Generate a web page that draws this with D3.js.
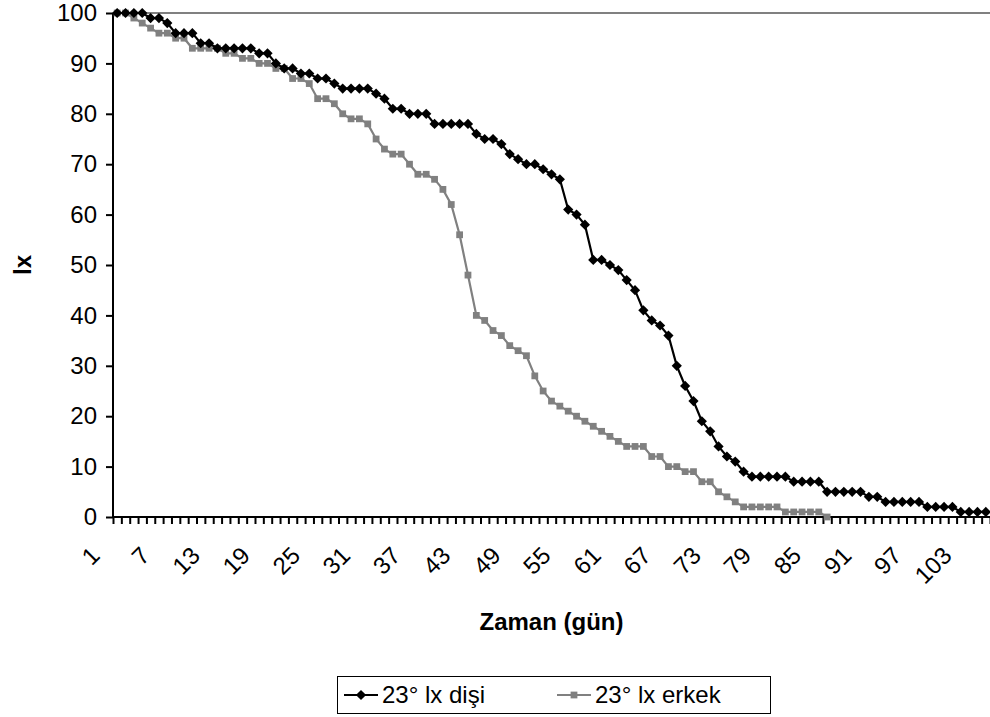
<!DOCTYPE html>
<html>
<head>
<meta charset="utf-8">
<script src="https://cdn.jsdelivr.net/npm/d3@7"></script>
<style>
  body { margin: 0; background: #fff; }
  text { font-family: "Liberation Sans", Arial, sans-serif; fill: #000; }
</style>
</head>
<body>
<svg id="chart" width="990" height="717"></svg>
<script>
// Survival (lx) at 23°, by day
const days = d3.range(1, 106);
const femaleLx = [
  100, 100, 100, 100, 99, 99, 98, 96, 96, 96,
  94, 94, 93, 93, 93, 93, 93, 92, 92, 90,
  89, 89, 88, 88, 87, 87, 86, 85, 85, 85,
  85, 84, 83, 81, 81, 80, 80, 80, 78, 78,
  78, 78, 78, 76, 75, 75, 74, 72, 71, 70,
  70, 69, 68, 67, 61, 60, 58, 51, 51, 50,
  49, 47, 45, 41, 39, 38, 36, 30, 26, 23,
  19, 17, 14, 12, 11, 9, 8, 8, 8, 8,
  8, 7, 7, 7, 7, 5, 5, 5, 5, 5,
  4, 4, 3, 3, 3, 3, 3, 2, 2, 2,
  2, 1, 1, 1, 1
];
const maleLx = [
  100, 100, 99, 98, 97, 96, 96, 95, 95, 93,
  93, 93, 93, 92, 92, 91, 91, 90, 90, 89,
  89, 87, 87, 86, 83, 83, 82, 80, 79, 79,
  78, 75, 73, 72, 72, 70, 68, 68, 67, 65,
  62, 56, 48, 40, 39, 37, 36, 34, 33, 32,
  28, 25, 23, 22, 21, 20, 19, 18, 17, 16,
  15, 14, 14, 14, 12, 12, 10, 10, 9, 9,
  7, 7, 5, 4, 3, 2, 2, 2, 2, 2,
  1, 1, 1, 1, 1, 0
];
const dayTicks = [1, 7, 13, 19, 25, 31, 37, 43, 49, 55, 61, 67, 73, 79, 85, 91, 97, 103];
const lxTicks = [0, 10, 20, 30, 40, 50, 60, 70, 80, 90, 100];
const seriesNames = ["23° lx dişi", "23° lx erkek"];

const svg = d3.select("#chart");
const plotLeft = 113, plotRight = 990, plotTop = 13, plotBottom = 517;
const fontPx = "24px";

const x = d3.scaleBand().domain(days).range([plotLeft, plotRight]).padding(0);
const xEdge = d3.scaleLinear().domain([0, days.length]).range([plotLeft, plotRight]);
const y = d3.scaleLinear().domain([0, 100]).range([plotBottom, plotTop]);
const cx = d => x(d) + x.bandwidth() / 2;

// plot area top border
svg.append("line")
  .attr("x1", plotLeft).attr("x2", plotRight).attr("y1", plotTop).attr("y2", plotTop)
  .attr("stroke", "#808080").attr("stroke-width", 2);

// y axis
const yAxis = svg.append("g").attr("transform", `translate(${plotLeft},0)`)
  .call(d3.axisLeft(y).tickValues(lxTicks).tickSize(7).tickPadding(9).tickFormat(d3.format("d")));
yAxis.select(".domain").attr("stroke", "#000").attr("stroke-width", 2).attr("d", `M0,${plotBottom}V${plotTop}`);
yAxis.selectAll(".tick line").attr("stroke", "#000").attr("stroke-width", 2);
yAxis.selectAll(".tick text").style("font-size", fontPx).attr("font-family", null);

// x axis: ticks between categories
const xAxis = svg.append("g").attr("transform", `translate(0,${plotBottom})`)
  .call(d3.axisBottom(xEdge).tickValues(d3.range(0, days.length + 1)).tickSize(7).tickFormat(""));
xAxis.select(".domain").attr("stroke", "#000").attr("stroke-width", 2).attr("d", `M${plotLeft},0H${plotRight}`);
xAxis.selectAll(".tick line").attr("stroke", "#000").attr("stroke-width", 2);

// rotated day labels
svg.append("g").selectAll("text").data(dayTicks).join("text")
  .attr("transform", d => `translate(${cx(d) - 16},557) rotate(-45)`)
  .attr("text-anchor", "end")
  .style("font-size", fontPx)
  .text(d => d);

// axis titles
svg.append("text")
  .attr("x", (plotLeft + plotRight) / 2).attr("y", 630)
  .attr("text-anchor", "middle")
  .style("font-size", fontPx).style("font-weight", "bold")
  .text("Zaman (gün)");
svg.append("text")
  .attr("transform", `translate(31,${(plotTop + plotBottom) / 2}) rotate(-90)`)
  .attr("text-anchor", "middle")
  .style("font-size", fontPx).style("font-weight", "bold")
  .text("lx");

// series
const line = d3.line().x((v, i) => cx(days[i])).y(v => y(v));
const diamond = d3.symbol().type(d3.symbolSquare).size(52);
const square = d3.symbol().type(d3.symbolSquare).size(46);

svg.append("path").datum(maleLx)
  .attr("d", line).attr("fill", "none").attr("stroke", "#808080").attr("stroke-width", 2.2);
svg.append("g").selectAll("path").data(maleLx).join("path")
  .attr("d", square)
  .attr("transform", (v, i) => `translate(${cx(days[i])},${y(v)})`)
  .attr("fill", "#808080");

svg.append("path").datum(femaleLx)
  .attr("d", line).attr("fill", "none").attr("stroke", "#000").attr("stroke-width", 2.2);
svg.append("g").selectAll("path").data(femaleLx).join("path")
  .attr("d", diamond)
  .attr("transform", (v, i) => `translate(${cx(days[i])},${y(v)}) rotate(45)`)
  .attr("fill", "#000");

// legend
const lg = svg.append("g");
lg.append("rect").attr("x", 337.5).attr("y", 676.5).attr("width", 433).attr("height", 37)
  .attr("fill", "#fff").attr("stroke", "#000").attr("stroke-width", 1);
const items = [
  { name: seriesNames[0], color: "#000", sym: diamond, rot: 45, x0: 344 },
  { name: seriesNames[1], color: "#808080", sym: square, rot: 0, x0: 557 }
];
items.forEach(it => {
  lg.append("line").attr("x1", it.x0).attr("x2", it.x0 + 34).attr("y1", 695).attr("y2", 695)
    .attr("stroke", it.color).attr("stroke-width", 2.2);
  lg.append("path").attr("d", it.sym)
    .attr("transform", `translate(${it.x0 + 17},695) rotate(${it.rot})`).attr("fill", it.color);
  lg.append("text").attr("x", it.x0 + 38).attr("y", 703)
    .style("font-size", fontPx).text(it.name);
});
</script>
</body>
</html>
